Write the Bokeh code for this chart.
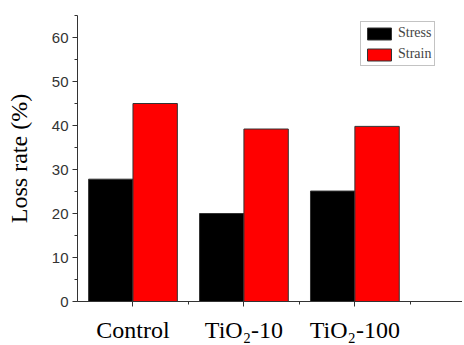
from bokeh.plotting import figure
from bokeh.models import FixedTicker, SingleIntervalTicker, Range1d, Legend, LegendItem
from bokeh.embed import file_html
from bokeh.resources import INLINE

categories = ["Control", "TiO\u2082-10", "TiO\u2082-100"]
positions = [1, 2, 3]
stress = [27.8, 20.0, 25.1]
strain = [45.0, 39.2, 39.8]
y_ticks_interval = 10

p = figure(width=462, height=345, output_backend="svg", toolbar_location=None,
           x_range=Range1d(0.5, 3.97), y_range=Range1d(0, 65),
           min_border_left=77, min_border_right=0, min_border_top=15, min_border_bottom=42)
p.outline_line_color = None
p.xgrid.visible = False
p.ygrid.visible = False
p.background_fill_color = "white"

r1 = p.vbar(x=[x - 0.2 for x in positions], top=stress, width=0.4,
            fill_color="black", line_color="#333333", line_width=1)
r2 = p.vbar(x=[x + 0.2 for x in positions], top=strain, width=0.4,
            fill_color="#ff0000", line_color="#333333", line_width=1)

# x axis
p.xaxis.ticker = FixedTicker(ticks=positions, minor_ticks=[1.5, 2.5, 3.5])
p.xaxis.major_label_overrides = {pos: lab for pos, lab in zip(positions, categories)}
p.xaxis.major_label_text_font = "Liberation Serif"
p.xaxis.major_label_text_font_size = "24px"
p.xaxis.major_label_text_color = "black"
p.xaxis.major_label_standoff = 10
for ax in (p.xaxis, p.yaxis):
    ax.axis_line_color = "#333333"
    ax.major_tick_line_color = "#333333"
    ax.minor_tick_line_color = "#333333"
    ax.major_tick_in = 0
    ax.major_tick_out = 5
    ax.minor_tick_in = 0
    ax.minor_tick_out = 3

# y axis
p.yaxis.ticker = SingleIntervalTicker(interval=y_ticks_interval, num_minor_ticks=2)
p.yaxis.major_label_text_font = "Liberation Sans"
p.yaxis.major_label_text_font_size = "15px"
p.yaxis.major_label_text_color = "#333333"
p.yaxis.major_label_standoff = 4
p.yaxis.axis_label = "Loss rate (%)"
p.yaxis.axis_label_text_font = "Liberation Serif"
p.yaxis.axis_label_text_font_size = "24px"
p.yaxis.axis_label_text_font_style = "normal"
p.yaxis.axis_label_text_color = "black"
p.yaxis.axis_label_standoff = 17

legend = Legend(items=[LegendItem(label="Stress", renderers=[r1]),
                       LegendItem(label="Strain", renderers=[r2])],
                location=(283, 235))
legend.label_text_font = "Liberation Serif"
legend.label_text_font_size = "14px"
legend.label_height = 15
legend.glyph_width = 30
legend.glyph_height = 15
legend.spacing = 5
legend.padding = 3
legend.margin = 0
legend.label_standoff = 4
legend.border_line_color = "#888888"
legend.border_line_width = 1
p.add_layout(legend)

open("out.html", "w").write(file_html(p, INLINE))
